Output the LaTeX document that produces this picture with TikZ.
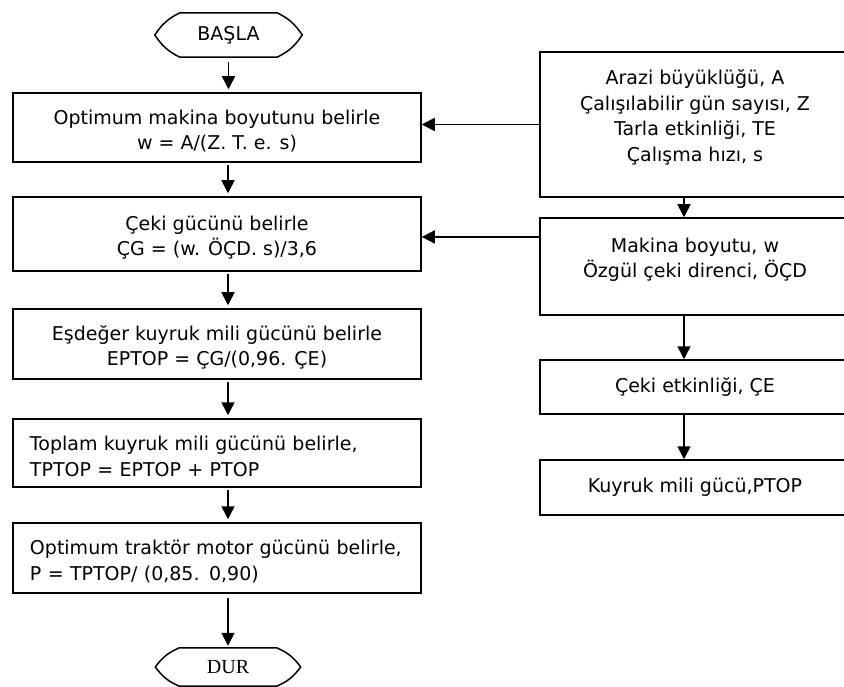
\documentclass[tikz,border=0pt]{standalone}
\usepackage{fontspec}
\setmainfont{DejaVu Sans}
\newfontfamily\durfont{Liberation Serif}
\usetikzlibrary{arrows.meta, calc}

\begin{document}
\begin{tikzpicture}[x=1pt, y=-1pt,
        every node/.style={font=\fontsize{19}{25.5}\selectfont},
        procbox/.style={draw, line width=1.5pt, minimum width=408pt, inner sep=0pt, align=center},
        databox/.style={draw, line width=1.5pt, minimum width=310pt, inner sep=0pt, align=center},
        term/.style={minimum width=97pt, inner sep=0pt},
        flow/.style={-{Triangle[length=13pt,width=13pt]}, line width=1.6pt}]
        \useasboundingbox (0,0) rectangle (844,687);
        \clip (0,0) rectangle (844,687);
        % left column
        \node[term, minimum height=44pt] (basla) at (228.5,35) {BAŞLA};
        \draw[line width=1.5pt] (basla.north west) -- (basla.north east) to[bend left=15] ([xshift=25pt]basla.east) to[bend left=15] (basla.south east) -- (basla.south west) to[bend left=15] ([xshift=-25pt]basla.west) to[bend left=15] (basla.north west);
        \node[procbox, minimum height=69pt] (makina) at (217,127.5) {\mbox{}\\[-4pt]Optimum makina boyutunu belirle\\w = A/(Z. T. e. s)};
        \node[procbox, minimum height=74pt] (cekigucu) at (217,234) {\mbox{}\\[-4pt]Çeki gücünü belirle\\ÇG = (w. ÖÇD. s)/3,6};
        \node[procbox, minimum height=70pt] (esdeger) at (217,344) {\mbox{}\\[-4pt]Eşdeğer kuyruk mili gücünü belirle\\EPTOP = ÇG/(0,96. ÇE)};
        \node[procbox, minimum height=68pt, align=left, text width=374pt, inner xsep=17pt] (toplam) at (217,453) {\mbox{}\\[-4pt]Toplam kuyruk mili gücünü belirle,\\TPTOP = EPTOP + PTOP};
        \node[procbox, minimum height=70pt, align=left, text width=374pt, inner xsep=17pt] (traktor) at (217,558) {\mbox{}\\[-4pt]Optimum traktör motor gücünü belirle,\\P = TPTOP/ (0,85. 0,90)};
        \node[term, minimum height=38pt, font=\durfont\fontsize{20}{24}\selectfont] (dur) at (228,667) {DUR};
        \draw[line width=1.5pt] (dur.north west) -- (dur.north east) to[bend left=15] ([xshift=24pt]dur.east) to[bend left=15] (dur.south east) -- (dur.south west) to[bend left=15] ([xshift=-24pt]dur.west) to[bend left=15] (dur.north west);
        \draw[flow, shorten <=5pt, shorten >=3pt] (basla.south) -- (basla.south |- makina.north);
        \foreach \a/\b in {makina/cekigucu, cekigucu/esdeger, esdeger/toplam, toplam/traktor}
            \draw[flow, shorten <=2pt, shorten >=3pt] ([xshift=11pt]\a.south) -- ([xshift=11pt]\b.north);
        \draw[flow, shorten <=4pt, shorten >=2pt] ([xshift=11pt]traktor.south) -- (dur.north);
        % right column
        \node[databox, minimum height=145pt] (arazi) at (695,124.5) {Arazi büyüklüğü, A\\Çalışılabilir gün sayısı, Z\\Tarla etkinliği, TE\\Çalışma hızı, s\\[-8pt]\mbox{}};
        \node[databox, minimum height=97pt] (makboy) at (695,266.5) {Makina boyutu, w\\Özgül çeki direnci, ÖÇD\\[-8pt]\mbox{}};
        \node[databox, minimum height=54pt] (cekietk) at (695,387) {Çeki etkinliği, ÇE};
        \node[databox, minimum height=55pt] (kuyruk) at (695,487.5) {Kuyruk mili gücü,PTOP};
        \foreach \a/\b in {arazi/makboy, makboy/cekietk, cekietk/kuyruk}
            \draw[flow] ([xshift=-11pt]\a.south) -- ([xshift=-11pt]\b.north);
        % inputs to the left column
        \draw[flow] (arazi.west) -- (arazi.west -| makina.east);
        \coordinate (mbin) at ($(makboy.north west)!0.2!(makboy.south west)$);
        \draw[flow] (mbin) -- (mbin -| cekigucu.east);
    \end{tikzpicture}
\end{document}
